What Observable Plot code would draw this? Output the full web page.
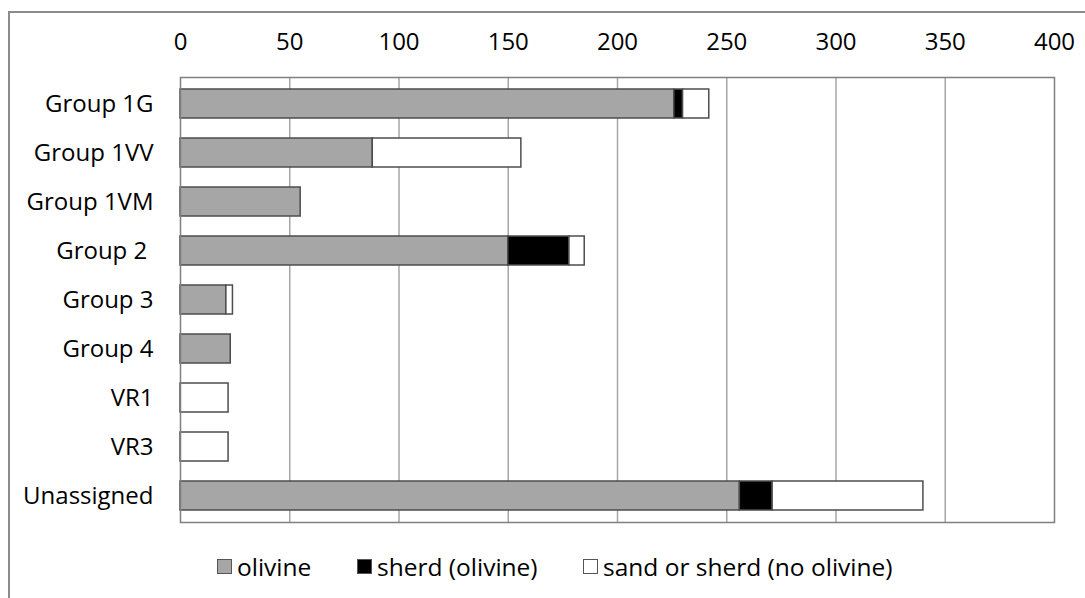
<!DOCTYPE html>
<html>
<head>
<meta charset="utf-8">
<script src="https://cdn.jsdelivr.net/npm/d3@7"></script>
<script src="https://cdn.jsdelivr.net/npm/@observablehq/plot@0.6"></script>
<style>
  html, body { margin: 0; padding: 0; background: #fff; overflow: hidden; }
  body { width: 1085px; height: 598px; position: relative; font-family: "Open Sans", sans-serif; }
  #frame { position: absolute; left: 8px; top: 11px; width: 1200px; height: 700px;
           border-left: 2px solid #8c8c8c; border-top: 2px solid #8c8c8c; }
  #chart { position: absolute; left: 0; top: 0; line-height: 0; }
  .leg { position: absolute; top: 550px; font-size: 24.5px; color: #000; display: flex; align-items: center; white-space: pre; }
  .sw { width: 15px; height: 15px; box-sizing: border-box; border: 1.5px solid #555; margin-right: 5px; }
</style>
</head>
<body>
<div id="frame"></div>
<div id="chart"></div>
<script>
const categories = ["Group 1G", "Group 1VV", "Group 1VM", "Group 2 ", "Group 3", "Group 4", "VR1", "VR3", "Unassigned"];
const seriesNames = ["olivine", "sherd (olivine)", "sand or sherd (no olivine)"];
const olivine       = [226, 88, 55, 150, 21, 23, 0, 0, 256];
const sherdOlivine  = [4, 0, 0, 28, 0, 0, 0, 0, 15];
const sandNoOlivine = [12, 68, 0, 7, 3, 0, 22, 22, 69];
const xTicks = [0, 50, 100, 150, 200, 250, 300, 350, 400];
const seriesColors = ["#a6a6a6", "#000000", "#ffffff"];

const seriesValues = [olivine, sherdOlivine, sandNoOlivine];
const rows = [];
seriesNames.forEach((s, si) => {
  categories.forEach((c, ci) => {
    const v = seriesValues[si][ci];
    if (v > 0) rows.push({category: c, series: s, order: si, value: v});
  });
});

const chart = Plot.plot({
  width: 1085,
  height: 545,
  marginTop: 77,
  marginBottom: 23,
  marginLeft: 180,
  marginRight: 31,
  style: {fontFamily: "'Open Sans', sans-serif", fontSize: "24px", color: "#000", background: "transparent"},
  x: {domain: [0, 400], ticks: xTicks, axis: "top", label: null, tickSize: 0, tickPadding: 28},
  y: {domain: categories, paddingInner: 0.41, paddingOuter: 0.205, label: null, tickSize: 0, tickPadding: 27,
      tickFormat: d => d.replace(/ $/, "\u00a0")},
  color: {domain: seriesNames, range: seriesColors},
  marks: [
    Plot.gridX(xTicks.filter(t => t > 0 && t < 400), {stroke: "#a6a6a6", strokeOpacity: 1, strokeWidth: 1.5}),
    Plot.barX(rows, Plot.stackX({
      y: "category", x: "value", fill: "series", order: seriesNames,
      stroke: "#4d4d4d", strokeWidth: 1.5
    })),
    Plot.frame({stroke: "#7f7f7f", strokeWidth: 1.5})
  ]
});
document.getElementById("chart").appendChild(chart);

const legendX = [217, 357, 583];
seriesNames.forEach((s, i) => {
  const item = document.createElement("div");
  item.className = "leg";
  item.style.left = legendX[i] + "px";
  const sw = document.createElement("div");
  sw.className = "sw";
  sw.style.background = seriesColors[i];
  const t = document.createElement("span");
  t.textContent = s;
  item.appendChild(sw);
  item.appendChild(t);
  document.body.appendChild(item);
});
</script>
</body>
</html>
